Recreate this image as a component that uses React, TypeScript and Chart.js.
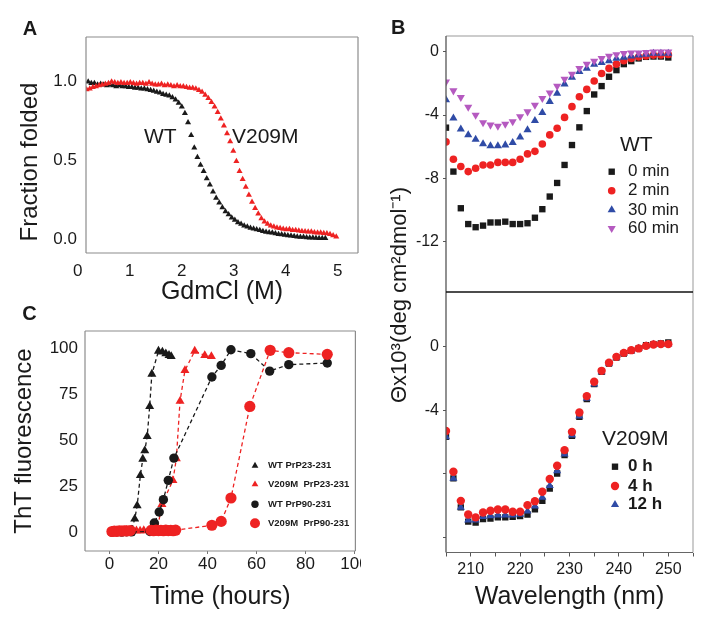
import React, { useEffect, useRef } from 'react';
import { Chart, registerables } from 'chart.js';

Chart.register(...registerables);

const FONT = "'Liberation Sans', Arial, Helvetica, sans-serif";
const INK = '#1a1a1a';
const RED = '#ee2222';
const BLUE = '#2f4ba6';
const PURPLE = '#b55ac0';
const FRAME = '#8c8c8c';

// ---------- Panel A: denaturation curves ----------
const gdmTicksX = [0, 1, 2, 3, 4, 5];
const gdmTicksY = [0, 0.5, 1.0];
const gdmWT_x = [0.20,0.26,0.32,0.38,0.44,0.50,0.56,0.62,0.68,0.74,0.80,0.86,0.92,0.98,1.04,1.10,1.16,1.22,1.28,1.34,1.40,1.46,1.52,1.58,1.64,1.70,1.76,1.82,1.88,1.94,2.00,2.06,2.12,2.18,2.24,2.30,2.36,2.42,2.48,2.54,2.60,2.66,2.72,2.78,2.84,2.90,2.96,3.02,3.08,3.14,3.20,3.26,3.32,3.38,3.44,3.50,3.56,3.62,3.68,3.74,3.80,3.86,3.92,3.98,4.04,4.10,4.16,4.22,4.28,4.34,4.40,4.46,4.52,4.58,4.64,4.70,4.76];
const gdmWT_y = [1.00,0.99,0.99,0.98,0.985,0.98,0.975,0.98,0.975,0.97,0.975,0.97,0.97,0.965,0.965,0.96,0.96,0.955,0.955,0.95,0.945,0.94,0.935,0.93,0.92,0.915,0.91,0.90,0.885,0.865,0.84,0.80,0.74,0.66,0.58,0.52,0.47,0.43,0.385,0.345,0.30,0.26,0.23,0.20,0.175,0.155,0.135,0.12,0.105,0.095,0.085,0.078,0.07,0.065,0.06,0.055,0.05,0.045,0.042,0.04,0.035,0.03,0.028,0.025,0.022,0.02,0.018,0.015,0.012,0.012,0.01,0.008,0.008,0.006,0.005,0.004,0.004];
const gdmV209M_x = [0.17,0.23,0.29,0.35,0.41,0.47,0.53,0.59,0.65,0.71,0.77,0.83,0.89,0.95,1.01,1.07,1.13,1.19,1.25,1.31,1.37,1.43,1.49,1.55,1.61,1.67,1.73,1.79,1.85,1.91,1.97,2.03,2.09,2.15,2.21,2.27,2.33,2.39,2.45,2.51,2.57,2.63,2.69,2.75,2.81,2.87,2.93,2.99,3.05,3.11,3.17,3.23,3.29,3.35,3.41,3.47,3.53,3.59,3.65,3.71,3.77,3.83,3.89,3.95,4.01,4.07,4.13,4.19,4.25,4.31,4.37,4.43,4.49,4.55,4.61,4.67,4.73,4.79,4.85,4.91,4.97];
const gdmV209M_y = [0.95,0.955,0.965,0.97,0.975,0.98,0.985,0.99,1.0,0.995,0.99,0.995,0.99,0.99,0.995,0.99,0.985,0.99,0.99,0.985,0.995,0.985,0.98,0.98,0.985,0.975,0.98,0.975,0.97,0.975,0.97,0.97,0.965,0.96,0.96,0.955,0.945,0.935,0.915,0.895,0.87,0.84,0.805,0.765,0.72,0.67,0.62,0.56,0.495,0.43,0.38,0.33,0.28,0.235,0.195,0.16,0.13,0.11,0.095,0.085,0.078,0.072,0.068,0.064,0.06,0.062,0.056,0.055,0.052,0.05,0.048,0.046,0.046,0.042,0.04,0.04,0.036,0.035,0.03,0.022,0.015];

// ---------- Panel B: CD spectra ----------
const wavelengths = [205,206.5,208,209.5,211,212.5,214,215.5,217,218.5,220,221.5,223,224.5,226,227.5,229,230.5,232,233.5,235,236.5,238,239.5,241,242.5,244,245.5,247,248.5,250];
const waveTicks = [205,210,215,220,225,230,235,240,245,250,255];
const cdTicks = [0,-4,-8,-12];
const cdWT_0min = [-4.8,-7.58,-9.9,-10.9,-11.1,-11.0,-10.8,-10.8,-10.75,-10.9,-10.9,-10.85,-10.5,-9.96,-9.16,-8.3,-7.16,-5.9,-4.78,-3.75,-2.7,-2.17,-1.58,-1.16,-0.78,-0.59,-0.42,-0.32,-0.3,-0.3,-0.36];
const cdWT_2min = [-5.7,-6.8,-7.26,-7.58,-7.37,-7.16,-7.16,-7.0,-7.0,-7.0,-6.8,-6.46,-6.3,-5.83,-5.26,-4.84,-4.15,-3.47,-2.84,-2.38,-1.85,-1.37,-1.05,-0.78,-0.57,-0.42,-0.32,-0.27,-0.21,-0.2,-0.17];
const cdWT_30min = [-3.05,-4.2,-4.9,-5.26,-5.54,-5.83,-5.96,-5.96,-5.9,-5.75,-5.4,-4.95,-4.36,-3.85,-3.16,-2.63,-2.04,-1.62,-1.26,-1.05,-0.8,-0.69,-0.57,-0.42,-0.36,-0.27,-0.21,-0.17,-0.1,-0.1,-0.1];
const cdWT_60min = [-1.9,-2.46,-2.88,-3.5,-4.0,-4.48,-4.63,-4.7,-4.57,-4.42,-4.1,-3.79,-3.37,-2.95,-2.59,-2.17,-1.73,-1.41,-1.05,-0.78,-0.59,-0.42,-0.27,-0.17,-0.1,-0.06,-0.06,-0.04,0,0,0];
const cdV_0h = [-5.66,-8.28,-10.1,-11.0,-11.05,-10.84,-10.8,-10.73,-10.73,-10.69,-10.65,-10.55,-10.23,-9.69,-8.91,-7.97,-6.81,-5.6,-4.4,-3.29,-2.35,-1.57,-1.05,-0.67,-0.42,-0.25,-0.1,0.1,0.17,0.21,0.27];
const cdV_4h = [-5.3,-7.86,-9.69,-10.55,-10.73,-10.42,-10.31,-10.23,-10.23,-10.38,-10.38,-9.96,-9.71,-9.12,-8.32,-7.48,-6.5,-5.35,-4.13,-3.1,-2.2,-1.51,-1.0,-0.63,-0.38,-0.21,-0.1,0.06,0.15,0.17,0.17];
const cdV_12h = [-5.66,-8.28,-10.1,-10.9,-10.9,-10.69,-10.63,-10.59,-10.59,-10.59,-10.55,-10.34,-10.02,-9.48,-8.74,-7.8,-6.75,-5.56,-4.36,-3.25,-2.35,-1.57,-1.05,-0.67,-0.42,-0.25,-0.1,0.06,0.15,0.17,0.17];

// ---------- Panel C: ThT kinetics ----------
const timeTicks = [0, 20, 40, 60, 80, 100];
const thtTicks = [0, 25, 50, 75, 100];
const wt23_t = [1,2,3,4,5,6,7,8,9,10.3,11.3,12.6,13.6,14.4,15.4,16.4,17.3,20.0,21.6,23.0,24.3,25.2];
const wt23_y = [0.3,0.5,0.4,0.6,0.4,0.7,0.5,0.8,1.5,7.4,14.6,31.1,40.0,44.5,52.3,68.6,86.2,98.7,98.2,97.3,96.4,95.8];
const v23_t = [1,3,5,7,9,11,12.5,14,16,18,19.5,21.4,25.9,27.3,28.8,30.8,34.8,38.9,41.6];
const v23_y = [0.8,1.0,0.9,1.2,1.0,1.1,0.9,1.2,1.0,1.3,1.4,15.4,28.4,40.2,71.5,88.2,98.7,96.3,95.8];
const wt90_t = [1,3,5,7,9,16.5,18.3,20.3,22.0,24.0,26.3,41.8,45.6,49.6,57.7,65.4,73.2,88.9];
const wt90_y = [0.3,0.4,0.3,0.5,0.4,0.6,5.2,11.2,17.9,28.4,40.5,84.6,90.9,99.4,97.3,87.8,91.3,92.2];
const v90_t = [1,2,3,4,5,6,7,8.5,17,18,19,20,21,22,23,24,25,26,27,41.8,45.6,49.6,57.3,65.6,73.2,88.9];
const v90_y = [0.6,0.8,0.7,1.0,0.8,1.0,0.9,1.1,1.2,1.0,1.3,1.1,1.2,1.0,1.3,1.1,1.2,1.0,1.3,4.0,6.1,18.8,68.6,99.1,97.8,96.9];

const zip = (xs: number[], ys: number[]) => xs.map((x, i) => ({ x, y: ys[i] }));

const fit = (size: number) => (scale: any) => {
  if (scale.isHorizontal()) scale.height = size;
  else scale.width = size;
  scale.paddingLeft = 0;
  scale.paddingRight = 0;
  scale.paddingTop = 0;
  scale.paddingBottom = 0;
};
const setTicks = (vals: number[]) => (scale: any) => {
  scale.ticks = vals.map((value) => ({ value }));
};

function drawMarker(ctx: CanvasRenderingContext2D, style: string, x: number, y: number, r: number, color: string, rotation = 0) {
  ctx.save();
  ctx.fillStyle = color;
  ctx.beginPath();
  if (style === 'circle') {
    ctx.arc(x, y, r, 0, Math.PI * 2);
  } else if (style === 'rect') {
    const s = r * Math.SQRT1_2;
    ctx.rect(x - s, y - s, 2 * s, 2 * s);
  } else {
    let a = (rotation * Math.PI) / 180;
    ctx.moveTo(x + Math.sin(a) * r, y - Math.cos(a) * r);
    a += (2 * Math.PI) / 3;
    ctx.lineTo(x + Math.sin(a) * r, y - Math.cos(a) * r);
    a += (2 * Math.PI) / 3;
    ctx.lineTo(x + Math.sin(a) * r, y - Math.cos(a) * r);
    ctx.closePath();
  }
  ctx.fill();
  ctx.restore();
}

function drawText(ctx: CanvasRenderingContext2D, t: any) {
  ctx.save();
  ctx.font = `${t.weight || 'normal'} ${t.size}px ${FONT}`;
  ctx.fillStyle = t.color || INK;
  ctx.textAlign = t.align || 'left';
  ctx.textBaseline = 'middle';
  ctx.translate(t.x, t.y);
  if (t.rotate) ctx.rotate((t.rotate * Math.PI) / 180);
  ctx.fillText(t.text, 0, 0);
  ctx.restore();
}

const framePlugin = {
  id: 'frame',
  afterDatasetsDraw(chart: any, _a: any, opts: any) {
    if (!opts || !opts.sides) return;
    const { left, right, top, bottom } = chart.chartArea;
    const ctx = chart.ctx as CanvasRenderingContext2D;
    ctx.save();
    for (const s of opts.sides) {
      ctx.strokeStyle = s.color;
      ctx.lineWidth = s.width;
      ctx.beginPath();
      if (s.side === 'top') { ctx.moveTo(left, top); ctx.lineTo(right, top); }
      if (s.side === 'bottom') { ctx.moveTo(left, bottom); ctx.lineTo(right, bottom); }
      if (s.side === 'left') { ctx.moveTo(left, top); ctx.lineTo(left, bottom); }
      if (s.side === 'right') { ctx.moveTo(right, top); ctx.lineTo(right, bottom); }
      ctx.stroke();
    }
    ctx.restore();
  },
};

const textPlugin = {
  id: 'texts',
  afterDraw(chart: any, _a: any, opts: any) {
    if (!opts || !opts.items) return;
    for (const t of opts.items) drawText(chart.ctx, t);
  },
};

const keyPlugin = {
  id: 'key',
  afterDraw(chart: any, _a: any, opts: any) {
    if (!opts || !opts.rows) return;
    const ctx = chart.ctx as CanvasRenderingContext2D;
    const ds = chart.data.datasets;
    if (opts.title) drawText(ctx, opts.title);
    opts.rows.forEach((y: number, i: number) => {
      const d = ds[i];
      const r = opts.markerR ? opts.markerR[i] : d.pointRadius;
      drawMarker(ctx, d.pointStyle, opts.markerX, y, r, d.backgroundColor, d.pointRotation || 0);
      drawText(ctx, { text: d.label, x: opts.textX, y, size: opts.size, weight: opts.weight });
    });
  },
};

const baseOptions = {
  animation: false,
  responsive: false,
  events: [],
};

const noGrid = { display: false, drawTicks: false };
const noBorder = { display: false };

const configA: any = {
  type: 'scatter',
  data: {
    datasets: [
      { label: 'WT', data: zip(gdmWT_x, gdmWT_y), backgroundColor: INK, borderColor: INK, pointStyle: 'triangle', pointRadius: 3.5, pointBorderWidth: 0, order: 1 },
      { label: 'V209M', data: zip(gdmV209M_x, gdmV209M_y), backgroundColor: RED, borderColor: RED, pointStyle: 'triangle', pointRadius: 3.5, pointBorderWidth: 0, order: 0 },
    ],
  },
  options: {
    ...baseOptions,
    layout: { padding: { left: 0, top: 37, right: 4, bottom: 0 } },
    scales: {
      x: {
        type: 'linear', min: 0.158, max: 5.388,
        afterBuildTicks: setTicks(gdmTicksX), afterFit: fit(57),
        grid: noGrid, border: noBorder,
        ticks: { autoSkip: false, maxRotation: 0, padding: 8, color: INK, font: { family: FONT, size: 17 }, callback: (v: number) => String(v) },
        title: { display: true, text: 'GdmCl (M)', color: INK, font: { family: FONT, size: 25 }, padding: { top: 0, bottom: 3 } },
      },
      y: {
        type: 'linear', min: -0.089, max: 1.284,
        afterBuildTicks: setTicks(gdmTicksY), afterFit: fit(86),
        grid: noGrid, border: noBorder,
        ticks: { autoSkip: false, padding: 9, color: INK, font: { family: FONT, size: 17 }, callback: (v: number) => v.toFixed(1) },
      },
    },
    plugins: {
      legend: { display: false }, tooltip: { enabled: false },
      frame: { sides: ['top', 'bottom', 'left', 'right'].map((side) => ({ side, color: FRAME, width: 1.2 })) },
      texts: {
        items: [
          { text: 'A', x: 30, y: 29, size: 20, weight: 'bold', align: 'center' },
          { text: 'Fraction folded', x: 30, y: 162, size: 24, rotate: -90, align: 'center' },
          { text: 'WT', x: 144, y: 137, size: 21 },
          { text: 'V209M', x: 232, y: 137, size: 21 },
        ],
      },
    },
  },
  plugins: [framePlugin, textPlugin],
};

const bY = (min: number, max: number, labelled: number[]) => ({
  type: 'linear', min, max,
  afterBuildTicks: setTicks(cdTicks), afterFit: fit(84),
  grid: { display: true, drawOnChartArea: false, drawTicks: true, tickLength: 3, color: '#555' },
  border: noBorder,
  ticks: { autoSkip: false, padding: 4, color: INK, font: { family: FONT, size: 16 }, callback: (v: number) => (labelled.includes(v) ? String(v) : '') },
});

const cdSet = (label: string, ys: number[], style: string, r: number, color: string, order: number, rot = 0) => ({
  label, data: zip(wavelengths, ys), backgroundColor: color, borderColor: color, pointStyle: style,
  pointRadius: r, pointRotation: rot, pointBorderWidth: 0, order, clip: 0,
});

const configBTop: any = {
  type: 'scatter',
  data: {
    datasets: [
      cdSet('0 min', cdWT_0min, 'rect', 4.5, INK, 3),
      cdSet('2 min', cdWT_2min, 'circle', 3.8, RED, 2),
      cdSet('30 min', cdWT_30min, 'triangle', 4.7, BLUE, 1),
      cdSet('60 min', cdWT_60min, 'triangle', 4.7, PURPLE, 0, 180),
    ],
  },
  options: {
    ...baseOptions,
    layout: { padding: { left: 0, top: 36, right: 19, bottom: 8 } },
    scales: {
      x: { type: 'linear', display: false, min: 205, max: 255 },
      y: bY(-15.2, 1.0, [0, -4, -8, -12]),
    },
    plugins: {
      legend: { display: false }, tooltip: { enabled: false },
      frame: {
        sides: [
          { side: 'top', color: '#999', width: 1 },
          { side: 'right', color: '#999', width: 1 },
          { side: 'left', color: '#555', width: 1.3 },
          { side: 'bottom', color: '#111', width: 1.6 },
        ],
      },
      key: {
        title: { text: 'WT', x: 258, y: 145, size: 21 },
        markerX: 249.7, textX: 266, rows: [171.7, 190.7, 210, 228.3], size: 17, weight: 'normal',
      },
    },
  },
  plugins: [framePlugin, keyPlugin],
};

const configBBottom: any = {
  type: 'scatter',
  data: {
    datasets: [
      cdSet('0 h', cdV_0h, 'rect', 4.5, INK, 2),
      cdSet('4 h', cdV_4h, 'circle', 4.2, RED, 0),
      cdSet('12 h', cdV_12h, 'triangle', 4.7, BLUE, 1),
    ],
  },
  options: {
    ...baseOptions,
    layout: { padding: { left: 0, top: 292, right: 19, bottom: 0 } },
    scales: {
      x: {
        type: 'linear', min: 205, max: 255,
        afterBuildTicks: setTicks(waveTicks), afterFit: fit(77.5),
        grid: { display: true, drawOnChartArea: false, drawTicks: true, tickLength: 4, color: '#555' },
        border: noBorder,
        ticks: { autoSkip: false, maxRotation: 0, padding: 3, color: INK, font: { family: FONT, size: 16 }, callback: (v: number) => (v % 10 === 0 ? String(v) : '') },
        title: { display: true, text: 'Wavelength (nm)', color: INK, font: { family: FONT, size: 25 }, padding: { top: 0, bottom: 18 } },
      },
      y: bY(-12.94, 3.45, [0, -4]),
    },
    plugins: {
      legend: { display: false }, tooltip: { enabled: false },
      frame: {
        sides: [
          { side: 'left', color: '#555', width: 1.3 },
          { side: 'right', color: '#999', width: 1 },
          { side: 'bottom', color: '#666', width: 1.2 },
        ],
      },
      texts: {
        items: [
          { text: 'B', x: 36.3, y: 28.3, size: 20, weight: 'bold', align: 'center' },
          { text: 'Θx10³(deg cm²dmol⁻¹)', x: 38, y: 295, size: 22, rotate: -90, align: 'center' },
        ],
      },
      key: {
        title: { text: 'V209M', x: 240, y: 439.3, size: 21 },
        markerX: 253, textX: 266, rows: [466.7, 486, 504.7], size: 17, weight: 'bold',
      },
    },
  },
  plugins: [framePlugin, textPlugin, keyPlugin],
};

const thtSet = (label: string, ts: number[], ys: number[], style: string, r: number, color: string, order: number) => ({
  label, data: zip(ts, ys), showLine: true, backgroundColor: color, borderColor: color, borderWidth: 1.3,
  borderDash: [4, 3], pointStyle: style, pointRadius: r, pointBorderWidth: 0, tension: 0, order,
});

const configC: any = {
  type: 'scatter',
  data: {
    datasets: [
      thtSet('WT PrP23-231', wt23_t, wt23_y, 'triangle', 5.2, INK, 2),
      thtSet('V209M  PrP23-231', v23_t, v23_y, 'triangle', 5.2, RED, 3),
      thtSet('WT PrP90-231', wt90_t, wt90_y, 'circle', 4.7, INK, 1),
      thtSet('V209M  PrP90-231', v90_t, v90_y, 'circle', 5.6, RED, 0),
    ],
  },
  options: {
    ...baseOptions,
    layout: { padding: { left: 0, top: 31, right: 2.7, bottom: 0 } },
    scales: {
      x: {
        type: 'linear', min: -10, max: 100.4,
        afterBuildTicks: setTicks(timeTicks), afterFit: fit(79),
        grid: { display: true, drawOnChartArea: false, drawTicks: true, tickLength: 3, color: '#777' },
        border: noBorder,
        ticks: { autoSkip: false, maxRotation: 0, padding: 0, color: INK, font: { family: FONT, size: 17 }, callback: (v: number) => String(v) },
        title: { display: true, text: 'Time (hours)', color: INK, font: { family: FONT, size: 25 }, padding: { top: 0, bottom: 18 } },
      },
      y: {
        type: 'linear', min: -10, max: 109.6,
        afterBuildTicks: setTicks(thtTicks), afterFit: fit(85),
        grid: noGrid, border: noBorder,
        ticks: { autoSkip: false, padding: 7, color: INK, font: { family: FONT, size: 17 }, callback: (v: number) => String(v) },
        title: { display: true, text: 'ThT fluorescence', color: INK, font: { family: FONT, size: 24 }, padding: { top: 10, bottom: 0 } },
      },
    },
    plugins: {
      legend: { display: false }, tooltip: { enabled: false },
      frame: { sides: ['top', 'bottom', 'left', 'right'].map((side) => ({ side, color: FRAME, width: 1.2 })) },
      texts: { items: [{ text: 'C', x: 29.5, y: 14.5, size: 20, weight: 'bold', align: 'center' }] },
      key: { markerX: 255, textX: 268, rows: [165.7, 184.3, 204.3, 223.3], size: 9.5, weight: 'bold', markerR: [3.9, 3.9, 3.7, 5] },
    },
  },
  plugins: [framePlugin, textPlugin, keyPlugin],
};

function ChartCanvas({ left, top, width, height, config }: { left: number; top: number; width: number; height: number; config: any }) {
  const ref = useRef<HTMLCanvasElement>(null);
  useEffect(() => {
    const chart = new Chart(ref.current as HTMLCanvasElement, config);
    return () => chart.destroy();
  }, [config]);
  return (
    <canvas
      ref={ref}
      width={width}
      height={height}
      style={{ position: 'absolute', left, top, width, height, display: 'block' }}
    />
  );
}

export default function App() {
  return (
    <div style={{ position: 'absolute', left: 0, top: 0, width: 712, height: 630, background: '#fff', overflow: 'hidden' }}>
      <ChartCanvas left={0} top={0} width={362} height={310} config={configA} />
      <ChartCanvas left={0} top={300} width={361} height={330} config={configC} />
      <ChartCanvas left={362} top={0} width={350} height={630} config={configBBottom} />
      <ChartCanvas left={362} top={0} width={350} height={300} config={configBTop} />
    </div>
  );
}
